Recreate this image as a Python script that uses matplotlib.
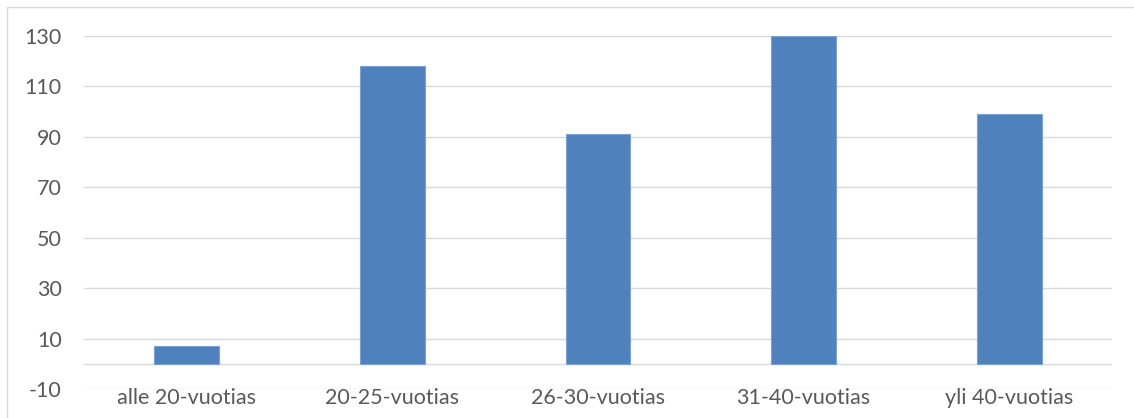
import numpy as np
import matplotlib.pyplot as plt
from matplotlib.patches import Rectangle

# ikäryhmät ja lukumäärät
ryhmat = ['alle 20-vuotias', '20-25-vuotias', '26-30-vuotias', '31-40-vuotias', 'yli 40-vuotias']
arvot = [7, 118, 91, 130, 99]
y_tikit = [-10, 10, 30, 50, 70, 90, 110, 130]

plt.rcParams['font.family'] = ['Lato', 'DejaVu Sans']
plt.rcParams['axes.unicode_minus'] = False

fig = plt.figure(figsize=(11.34, 4.18), dpi=100)
ax = fig.add_axes([84 / 1134, 1 - 389.3 / 418, (1112 - 84) / 1134, (389.3 - 36) / 418])

# kehys kuvan ympärillä
fig.patches.append(Rectangle((7.3 / 1134, -0.1), 1.2, 1 - 6.7 / 418 + 0.1,
                             transform=fig.transFigure, fill=False,
                             edgecolor='#d9d9d9', linewidth=1.0))

x = np.arange(len(ryhmat))
ax.bar(x, arvot, width=0.315, color='#4f81bd', edgecolor='#7aa1d2', linewidth=0.8, zorder=3)

ax.set_ylim(-10, 130)
ax.set_xlim(-0.5, len(ryhmat) - 0.5)
ax.set_yticks(y_tikit)
ax.set_xticks(x)
ax.set_xticklabels(ryhmat)

for y in y_tikit:
    ax.axhline(y, color='#d9d9d9', linewidth=1.0, zorder=1)
ax.axhline(0, color='#d9d9d9', linewidth=1.0, zorder=2)

for s in ax.spines.values():
    s.set_visible(False)
ax.tick_params(axis='both', length=0, labelsize=15.5, colors='#595959')
ax.tick_params(axis='y', pad=16)
ax.tick_params(axis='x', pad=-1)

fig.savefig('out.png', dpi=100)
